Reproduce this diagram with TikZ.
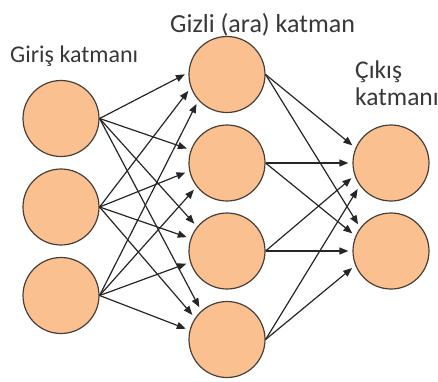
\documentclass[tikz,border=0pt]{standalone}
\usepackage{fontspec}
\setmainfont{Carlito}
\usetikzlibrary{arrows.meta}
\definecolor{nfill}{HTML}{FAC090}
\definecolor{nline}{HTML}{4A3F38}
\definecolor{aline}{HTML}{262626}
\definecolor{tcol}{HTML}{383838}
\begin{document}
\begin{tikzpicture}[x=1pt,y=-1pt,
  neuron/.style={circle,draw=nline,fill=nfill,line width=1.2pt,minimum size=76pt,inner sep=0pt},
  conn/.style={draw=aline,line width=1.2pt,-{Triangle[length=9pt,width=7pt]},shorten >=4pt},
  lbl/.style={text=tcol,inner sep=0pt,anchor=base west}]
\useasboundingbox (0,0) rectangle (438,381);
% labels
\node[lbl,font=\fontsize{24}{28}\selectfont] (tin) at (10,62) {Giriş katmanı};
\node[lbl,font=\fontsize{26}{30}\selectfont] (thid) at (170,32) {Gizli (ara) katman};
\node[lbl,font=\fontsize{25.5}{30}\selectfont] (tout1) at (355,78) {Çıkış};
\node[lbl,font=\fontsize{25.5}{30}\selectfont] (tout2) at (355,105) {katmanı};
% input layer
\node[neuron] (i1) at (61,118.5) {};
\node[neuron] (i2) at (61,207) {};
\node[neuron] (i3) at (61,295.5) {};
% hidden layer
\node[neuron] (h1) at (227,74.5) {};
\node[neuron] (h2) at (227,163) {};
\node[neuron] (h3) at (227,251) {};
\node[neuron] (h4) at (227,339.5) {};
% output layer
\node[neuron] (o1) at (391,163) {};
\node[neuron] (o2) at (391,251) {};
% input -> hidden
\foreach \s/\t/\a in {i1/h1/177,i1/h2/160,i1/h3/141,i1/h4/132,
                      i2/h1/200,i2/h2/192,i2/h3/161,i2/h4/146,
                      i3/h1/222,i3/h2/218,i3/h3/197,i3/h4/166}
  \draw[conn] (\s.east) -- (\t.\a);
% hidden -> output
\foreach \s/\t/\a in {h1/o1/157,h1/o2/143,h2/o1/180,h2/o2/157,
                      h3/o1/199,h3/o2/180,h4/o1/216,h4/o2/202}
  \draw[conn] (\s.east) -- (\t.\a);
\end{tikzpicture}
\end{document}
